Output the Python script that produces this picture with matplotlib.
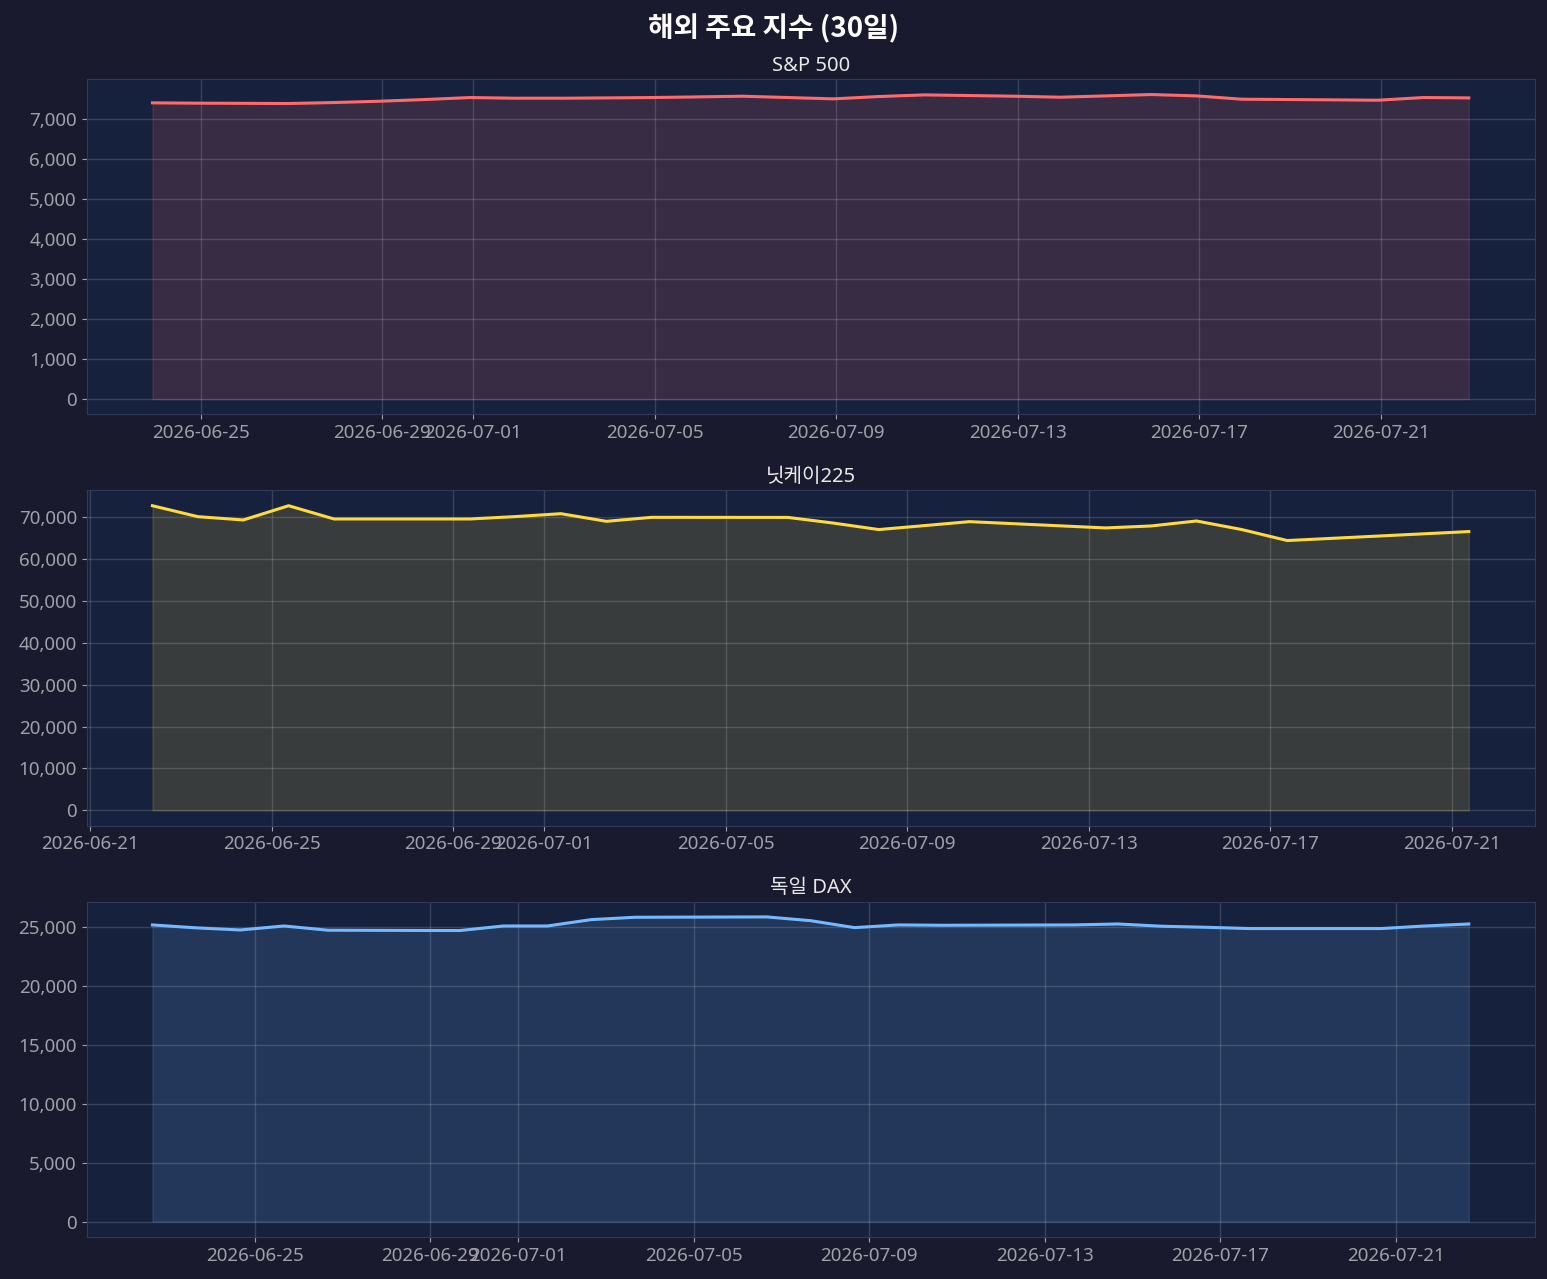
import pandas as pd
import matplotlib
matplotlib.use("Agg")
import matplotlib.pyplot as plt
from matplotlib.ticker import FuncFormatter, MultipleLocator

plt.rcParams['font.family'] = ['Noto Sans', 'Noto Sans CJK KR', 'DejaVu Sans']

# S&P 500 - daily points (KST 22:30 = NY open)
sp_dates = pd.date_range('2026-06-23 22:30', periods=30, freq='D')
sp_values = [7407, 7399, 7395, 7390, 7415, 7448, 7490, 7540, 7523, 7523,
             7531, 7540, 7556, 7573, 7540, 7507, 7565, 7606, 7590, 7573,
             7548, 7581, 7615, 7581, 7498, 7490, 7482, 7473, 7540, 7531]

# Nikkei 225 - trading days (KST 09:00)
nk_days = ['2026-06-22', '2026-06-23', '2026-06-24', '2026-06-25', '2026-06-26',
           '2026-06-29', '2026-06-30', '2026-07-01', '2026-07-02', '2026-07-03',
           '2026-07-06', '2026-07-07', '2026-07-08', '2026-07-09', '2026-07-10',
           '2026-07-13', '2026-07-14', '2026-07-15', '2026-07-16', '2026-07-17',
           '2026-07-21']
nk_values = [72690, 70080, 69290, 72690, 69530,
             69530, 70100, 70790, 68970, 69920,
             69900, 68550, 67000, 67940, 68890,
             67390, 67860, 69050, 67000, 64380,
             66520]

# DAX - trading days (KST 16:00)
dax_days = ['2026-06-22', '2026-06-23', '2026-06-24', '2026-06-25', '2026-06-26',
            '2026-06-29', '2026-06-30', '2026-07-01', '2026-07-02', '2026-07-03',
            '2026-07-06', '2026-07-07', '2026-07-08', '2026-07-09', '2026-07-10',
            '2026-07-13', '2026-07-14', '2026-07-15', '2026-07-16', '2026-07-17',
            '2026-07-20', '2026-07-21', '2026-07-22']
dax_values = [25200, 24950, 24770, 25110, 24750,
              24720, 25110, 25110, 25650, 25850,
              25880, 25560, 24970, 25200, 25170,
              25200, 25280, 25090, 25000, 24890,
              24890, 25110, 25280]

nk_dates = pd.to_datetime(nk_days) + pd.Timedelta(hours=9)
dax_dates = pd.to_datetime(dax_days) + pd.Timedelta(hours=16)

# name, dates, values, color, y tick step
series = [
    ('S&P 500', sp_dates, sp_values, '#ff6b6b', 1000),
    ('닛케이225', nk_dates, nk_values, '#ffd93d', 10000),
    ('독일 DAX', dax_dates, dax_values, '#74b9ff', 5000),
]

fig_bg = '#1a1a2e'
ax_bg = '#16213e'

fig, axes = plt.subplots(3, 1, figsize=(15.47, 12.79), dpi=100)
fig.patch.set_facecolor(fig_bg)

for ax, (name, dates, values, color, step) in zip(axes, series):
    ax.set_facecolor(ax_bg)
    ax.plot(dates, values, color=color, linewidth=2.2)
    ax.fill_between(dates, values, 0, color=color, alpha=0.15)
    ax.set_title(name, color='#e8e8e8', fontsize=14.5, pad=6)
    ax.yaxis.set_major_locator(MultipleLocator(step))
    ax.yaxis.set_major_formatter(FuncFormatter(lambda v, p: f'{v:,.0f}'))
    ax.tick_params(colors='#a0a0aa', labelsize=13.5)
    ax.grid(True, color='white', alpha=0.15, linewidth=1)
    for sp in ax.spines.values():
        sp.set_color('#33395a')

fig.suptitle('해외 주요 지수 (30일)', color='white', fontsize=20, fontweight='bold',
             family=['Noto Sans CJK KR', 'DejaVu Sans'], y=0.989)
fig.subplots_adjust(left=0.056, right=0.992, top=0.938, bottom=0.033, hspace=0.227)
fig.savefig('out.png', facecolor=fig_bg)
